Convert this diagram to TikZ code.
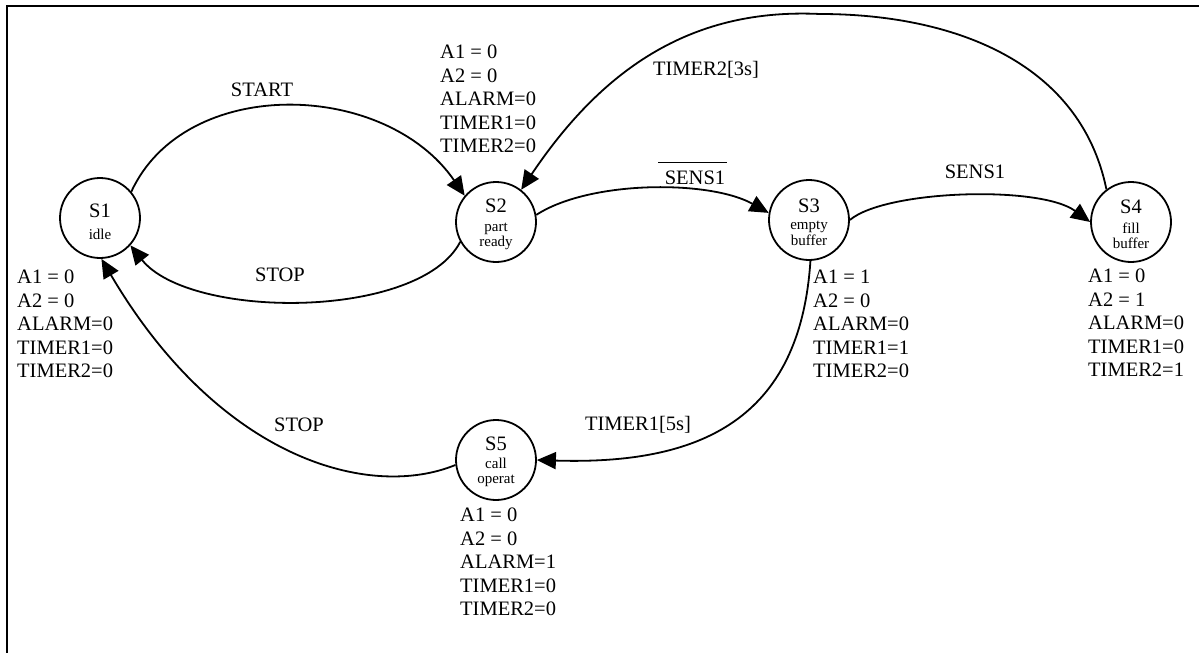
\documentclass[tikz,border=0pt]{standalone}
\usepackage{fontspec}
\setmainfont{Liberation Serif}
\usetikzlibrary{arrows.meta}
\begin{document}
\begin{tikzpicture}[x=1pt,y=-1pt,
  state/.style={circle,draw,line width=1.8pt,minimum size=80pt,inner sep=0pt},
  big/.style={font=\fontsize{20.5}{23.5}\selectfont},
  small/.style={font=\fontsize{15}{15}\selectfont},
  nm/.style={big,anchor=base,inner sep=0pt},
  sm/.style={small,anchor=base,inner sep=0pt},
  outs/.style={big,align=left,anchor=north west,inner sep=0pt},
  trans/.style={line width=1.8pt,-{Triangle[length=19pt,width=17pt]}},
  elabel/.style={big,inner sep=0pt}]
\useasboundingbox (0,0) rectangle (1199,653);
\draw[line width=2.2pt] (7,653) -- (7,6) -- (1199,6);

% states
\node[state] (S1) at (100,218) {};
\node[nm] (S1a) at (100,217) {S1};
\node[sm] (S1b) at (100,239) {idle};

\node[state] (S2) at (496,222) {};
\node[nm] (S2a) at (496,212) {S2};
\node[sm] (S2b) at (496,231) {part};
\node[sm] (S2c) at (496,246) {ready};

\node[state] (S3) at (809,220) {};
\node[nm] (S3a) at (809,212) {S3};
\node[sm] (S3b) at (809,229) {empty};
\node[sm] (S3c) at (809,245) {buffer};

\node[state] (S4) at (1131,222) {};
\node[nm] (S4a) at (1131,213) {S4};
\node[sm] (S4b) at (1131,233) {fill};
\node[sm] (S4c) at (1131,248) {buffer};

\node[state] (S5) at (496,460) {};
\node[nm] (S5a) at (496,450) {S5};
\node[sm] (S5b) at (496,468) {call};
\node[sm] (S5c) at (496,483) {operat};

% outputs
\node[outs] (O1) at (17,270) {A1 = 0\\A2 = 0\\ALARM=0\\TIMER1=0\\TIMER2=0};
\node[outs] (O2) at (440,45) {A1 = 0\\A2 = 0\\ALARM=0\\TIMER1=0\\TIMER2=0};
\node[outs] (O3) at (813,270) {A1 = 1\\A2 = 0\\ALARM=0\\TIMER1=1\\TIMER2=0};
\node[outs] (O4) at (1088,269) {A1 = 0\\A2 = 1\\ALARM=0\\TIMER1=0\\TIMER2=1};
\node[outs] (O5) at (460,508) {A1 = 0\\A2 = 0\\ALARM=1\\TIMER1=0\\TIMER2=0};

% transitions
\draw[trans] (S1.40) .. controls (185,75) and (385,80) .. (S2.140);
\node[elabel] (L1) at (262,90) {START};

\draw[trans] (S2.209) .. controls (420,320) and (190,320) .. (S1.-42);
\node[elabel] (L2) at (280,275) {STOP};

\draw[trans] (S2.10) .. controls (590,180) and (710,180) .. (S3.170);
\node[elabel] (L3) at (695,178) {SENS1};
\draw[line width=1pt] (658,162) -- (727,162);

\draw[trans] (S3.0) .. controls (885,190) and (1040,185) .. (S4.180);
\node[elabel] (L4) at (975,172) {SENS1};

\coordinate (T2top) at (820,14);
\draw[trans] (S4.127) .. controls (1080,60) and (950,14) .. (T2top)
  .. controls (695,8) and (605,65) .. (S2.52);
\node[elabel] (L5) at (706,70) {TIMER2[3s]};

\draw[trans] (S3.-88) .. controls (800,420) and (700,465) .. (S5.0);
\node[elabel] (L6) at (638,425) {TIMER1[5s]};

\draw[trans] (S5.187) .. controls (370,500) and (220,460) .. (S1.-88);
\node[elabel] (L7) at (299,425) {STOP};
\end{tikzpicture}
\end{document}
